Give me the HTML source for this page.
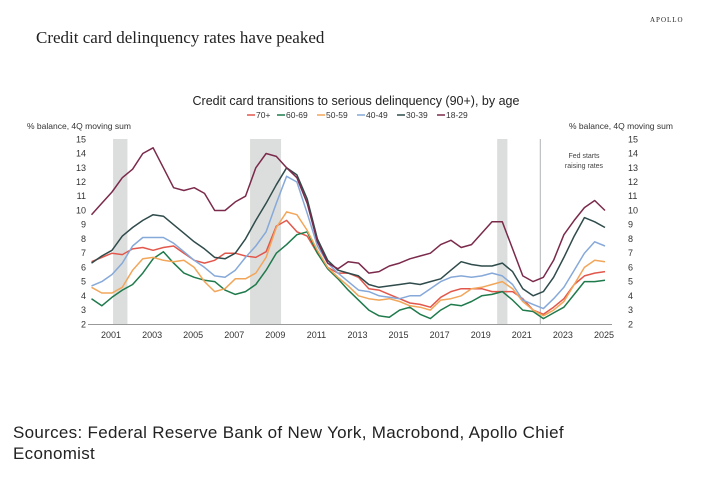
<!DOCTYPE html>
<html><head><meta charset="utf-8"><style>
body{margin:0;background:#fff;width:725px;height:493px;overflow:hidden;font-family:"Liberation Sans",sans-serif}
.h{position:absolute;left:36px;top:28px;font-family:"Liberation Serif",serif;font-size:17px;color:#222}
.ap{position:absolute;left:650px;top:16px;font-family:"Liberation Serif",serif;font-size:7px;letter-spacing:1px;color:#222}
.src{position:absolute;left:13px;top:422px;font-size:17px;line-height:21px;color:#222;letter-spacing:0.3px}
</style></head><body>
<div class="h">Credit card delinquency rates have peaked</div>
<div class="ap">APOLLO</div>
<svg id="c" width="725" height="493" style="position:absolute;left:0;top:0"></svg>
<div class="src">Sources: Federal Reserve Bank of New York, Macrobond, Apollo Chief<br>Economist</div>
<script>
const startYear=2000.05, stepYear=0.5;
const seriesNames=["70+","60-69","50-59","40-49","30-39","18-29"];
const seriesColors=["#e2574c","#1f7a4c","#f2a65a","#86a9d9","#2f4b4b","#7b2a4b"];
const s70=[6.4,6.7,7.0,6.9,7.3,7.4,7.2,7.4,7.5,7.0,6.5,6.3,6.5,7.0,7.0,6.8,6.7,7.1,8.9,9.3,8.5,8.2,7.0,6.0,5.6,5.6,5.3,4.5,4.4,4.1,3.8,3.5,3.4,3.2,3.9,4.3,4.5,4.5,4.5,4.3,4.3,4.3,3.8,3.0,2.7,3.2,3.8,4.8,5.4,5.6,5.7];
const s60=[3.8,3.3,3.9,4.4,4.8,5.6,6.6,7.1,6.3,5.6,5.3,5.1,5.0,4.4,4.1,4.3,4.8,5.8,7.0,7.6,8.3,8.5,7.0,5.9,5.2,4.4,3.7,3.0,2.6,2.5,3.0,3.2,2.7,2.4,3.0,3.4,3.3,3.6,4.0,4.1,4.3,3.7,3.0,2.9,2.4,2.8,3.2,4.1,5.0,5.0,5.1];
const s50=[4.6,4.2,4.2,4.6,5.8,6.6,6.7,6.5,6.4,6.5,6.0,5.0,4.3,4.5,5.2,5.2,5.6,6.7,8.8,9.9,9.7,8.6,7.2,6.0,5.3,4.7,4.0,3.8,3.7,3.8,3.6,3.3,3.2,3.0,3.7,3.8,4.0,4.5,4.6,4.8,5.0,4.5,3.6,3.0,2.6,3.0,3.6,4.8,6.0,6.5,6.4];
const s40=[4.7,5.0,5.5,6.3,7.5,8.1,8.1,8.1,7.7,7.1,6.5,6.0,5.4,5.3,5.8,6.7,7.5,8.5,10.5,12.4,12.0,9.8,7.5,6.3,5.6,5.0,4.4,4.3,4.0,3.9,3.8,4.0,4.0,4.5,5.0,5.3,5.4,5.3,5.4,5.6,5.4,4.8,3.7,3.4,3.1,3.8,4.6,5.8,7.0,7.8,7.5];
const s30=[6.3,6.8,7.2,8.2,8.8,9.3,9.7,9.6,9.0,8.4,7.8,7.3,6.7,6.6,7.0,8.0,9.3,10.5,11.8,13.0,12.5,10.8,8.0,6.5,5.8,5.6,5.4,4.8,4.6,4.7,4.8,4.9,4.8,5.0,5.2,5.8,6.4,6.2,6.1,6.1,6.3,5.7,4.5,4.0,4.3,5.3,6.7,8.2,9.5,9.2,8.8];
const s18=[9.7,10.5,11.3,12.3,12.9,14.0,14.4,13.0,11.6,11.4,11.6,11.2,10.0,10.0,10.6,11.0,13.0,14.0,13.8,13.0,12.3,10.5,7.8,6.3,5.9,6.4,6.3,5.6,5.7,6.1,6.3,6.6,6.8,7.0,7.6,7.9,7.4,7.6,8.4,9.2,9.2,7.3,5.4,5.0,5.3,6.5,8.3,9.3,10.2,10.7,10.0];
const seriesValues=[s70,s60,s50,s40,s30,s18];
const yTicks=[2,3,4,5,6,7,8,9,10,11,12,13,14,15];
const xTicks=[2001,2003,2005,2007,2009,2011,2013,2015,2017,2019,2021,2023,2025];
const recessions=[[2001.1,2001.8],[2007.77,2009.28],[2019.8,2020.3]];
const fedYear=2021.9;

const X=y=>111+(y-2001)*20.54;
const Y=v=>324.3-(v-2)*14.23;
const svg=document.getElementById('c');
const NS='http://www.w3.org/2000/svg';
function mk(t,a,p){const e=document.createElementNS(NS,t);for(const k in a)e.setAttribute(k,a[k]);(p||svg).appendChild(e);return e;}
const F='"Liberation Sans",sans-serif';
recessions.forEach(r=>{
 const e=mk('rect',{x:X(r[0]),y:139,width:X(r[1])-X(r[0]),height:185,fill:'#dcdedd'});
 
 
});
const fl=mk('line',{x1:X(fedYear),x2:X(fedYear),y1:139,y2:324,stroke:'#b0b4b8','stroke-width':1});


[['Fed starts',158],['raising rates',168]].forEach(t=>{
 const e=mk('text',{x:584,y:t[1],'font-size':7,'font-family':F,fill:'#444','text-anchor':'middle'});e.textContent=t[0];
 
 
});
const ax=mk('line',{x1:88,x2:612,y1:324.5,y2:324.5,stroke:'#999','stroke-width':1});


yTicks.forEach(v=>{
 const l=mk('text',{x:86,y:Y(v)+3,'font-size':9,'font-family':F,fill:'#333','text-anchor':'end'});l.textContent=v;
 
 
 const r=mk('text',{x:628,y:Y(v)+3,'font-size':9,'font-family':F,fill:'#333'});r.textContent=v;
 
 
});
xTicks.forEach(y=>{
 const t=mk('text',{x:X(y),y:338,'font-size':9,'font-family':F,fill:'#333','text-anchor':'middle'});t.textContent=y;
 
 
});
seriesValues.forEach((vals,i)=>{
 const d=vals.map((v,j)=>(j?'L':'M')+X(startYear+j*stepYear).toFixed(1)+' '+Y(v).toFixed(1)).join(' ');
 const p=mk('path',{d:d,fill:'none',stroke:seriesColors[i],'stroke-width':1.5,'stroke-linejoin':'round'});
 
 
});
const tt=mk('text',{x:356,y:105,'font-size':12.5,'font-family':F,fill:'#222','text-anchor':'middle'});tt.textContent='Credit card transitions to serious delinquency (90+), by age';


let lx=247;
seriesNames.forEach((n,i)=>{
 const g=mk('g',{});
 
 
 mk('line',{x1:lx,x2:lx+8,y1:115,y2:115,stroke:seriesColors[i],'stroke-width':1.5},g);
 const t=mk('text',{x:lx+9,y:118,'font-size':8.5,'font-family':F,fill:'#333'},g);t.textContent=n;
 lx+=9+(n.length*5)+6;
});
const a1=mk('text',{x:27,y:129,'font-size':8.5,'font-family':F,fill:'#333'});a1.textContent='% balance, 4Q moving sum';


const a2=mk('text',{x:569,y:129,'font-size':8.5,'font-family':F,fill:'#333'});a2.textContent='% balance, 4Q moving sum';


</script>
</body></html>
